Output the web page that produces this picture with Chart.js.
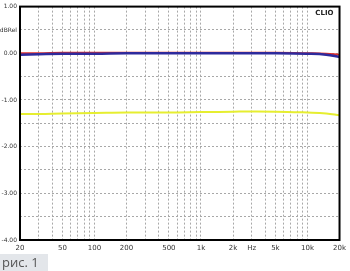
<!DOCTYPE html>
<html>
<head>
<meta charset="utf-8">
<script src="https://cdn.jsdelivr.net/npm/chart.js@4.4.0/dist/chart.umd.min.js"></script>
<style>
  html, body { margin: 0; padding: 0; background: #fff; }
  #wrap { position: relative; width: 350px; height: 271px; }
  #caption {
    position: absolute; left: 0; top: 254px; width: 48px; height: 17px;
    background: #e3e6ea; color: #555; font: 13px "Open Sans", sans-serif;
    line-height: 16px; padding-left: 2px; box-sizing: border-box;
  }
</style>
</head>
<body>
<div id="wrap">
  <canvas id="chart" width="350" height="254"></canvas>
  <div id="caption">рис. 1</div>
</div>
<script>
// frequency points (Hz)
const freqs = [20, 30, 50, 100, 200, 500, 1000, 2000, 5000, 10000, 15000, 20000];
// levels, dBRel
const redValues = [0.0, 0.0, 0.01, 0.01, 0.01, 0.01, 0.01, 0.01, 0.01, 0.0, -0.01, -0.03];
const blueValues = [-0.03, -0.02, -0.01, -0.01, 0.0, 0.0, 0.0, 0.0, 0.0, -0.01, -0.03, -0.08];
const yellowValues = [-1.3, -1.3, -1.29, -1.28, -1.27, -1.27, -1.26, -1.25, -1.25, -1.27, -1.29, -1.33];

// grid positions and labels on the x axis
const xGrid = [20, 30, 40, 50, 60, 70, 80, 90, 100, 200, 300, 400, 500, 600, 700, 800, 900,
  1000, 2000, 3000, 4000, 5000, 6000, 7000, 8000, 9000, 10000, 20000];
const xLabels = { 20: "20", 50: "50", 100: "100", 200: "200", 500: "500", 1000: "1k",
  2000: "2k", 3000: "Hz", 5000: "5k", 10000: "10k", 20000: "20k" };
// y axis labels
const yLabels = { "1": "1.00", "0.5": "dBRel", "0": "0.00", "-1": "-1.00", "-2": "-2.00", "-3": "-3.00", "-4": "-4.00" };

const toPoints = (vals) => vals.map((v, i) => ({ x: freqs[i], y: v }));

// black frame around the plot and CLIO tag
const framePlugin = {
  id: "frame",
  afterDraw(chart) {
    const { ctx, chartArea: a } = chart;
    ctx.save();
    ctx.strokeStyle = "#000";
    ctx.lineWidth = 2;
    ctx.strokeRect(a.left, a.top, a.right - a.left, a.bottom - a.top);
    ctx.fillStyle = "#222";
    ctx.font = "bold 7px 'DejaVu Sans', sans-serif";
    ctx.textAlign = "right";
    ctx.textBaseline = "middle";
    ctx.fillText("CLIO", a.right - 6, a.top + 7);
    ctx.restore();
  }
};

new Chart(document.getElementById("chart"), {
  type: "line",
  data: {
    // first dataset is drawn on top
    datasets: [
      { label: "Y", data: toPoints(yellowValues), borderColor: "#e6ee30", borderWidth: 2, pointRadius: 0, tension: 0.4 },
      { label: "R", data: toPoints(blueValues), borderColor: "#2e2a9c", borderWidth: 2.5, pointRadius: 0, tension: 0.4 },
      { label: "L", data: toPoints(redValues), borderColor: "#e0302a", borderWidth: 2, pointRadius: 0, tension: 0.4 }
    ]
  },
  options: {
    responsive: false,
    animation: false,
    layout: { padding: { top: 6, right: 6, left: 0, bottom: 0 } },
    plugins: { legend: { display: false }, tooltip: { enabled: false } },
    scales: {
      x: {
        type: "logarithmic",
        min: 20,
        max: 20000,
        afterBuildTicks: (scale) => { scale.ticks = xGrid.map((v) => ({ value: v })); },
        afterFit: (scale) => { scale.height = 14; },
        grid: { color: "#a8a8a8", lineWidth: 1, drawTicks: false },
        border: { display: false, dash: [2, 2] },
        ticks: {
          autoSkip: false, maxRotation: 0, padding: 4,
          color: "#333", font: { size: 7, family: "DejaVu Sans" },
          callback: (v) => xLabels[v] || ""
        }
      },
      y: {
        min: -4,
        max: 1,
        afterBuildTicks: (scale) => {
          const t = [];
          for (let v = -4; v <= 1; v += 0.5) t.push({ value: v });
          scale.ticks = t;
        },
        afterFit: (scale) => { scale.width = 20; },
        grid: { color: "#a8a8a8", lineWidth: 1, drawTicks: false },
        border: { display: false, dash: [2, 2] },
        ticks: {
          padding: 3,
          color: "#333", font: { size: 6, family: "DejaVu Sans" },
          callback: (v) => yLabels[String(v)] || ""
        }
      }
    }
  },
  plugins: [framePlugin]
});
</script>
</body>
</html>
